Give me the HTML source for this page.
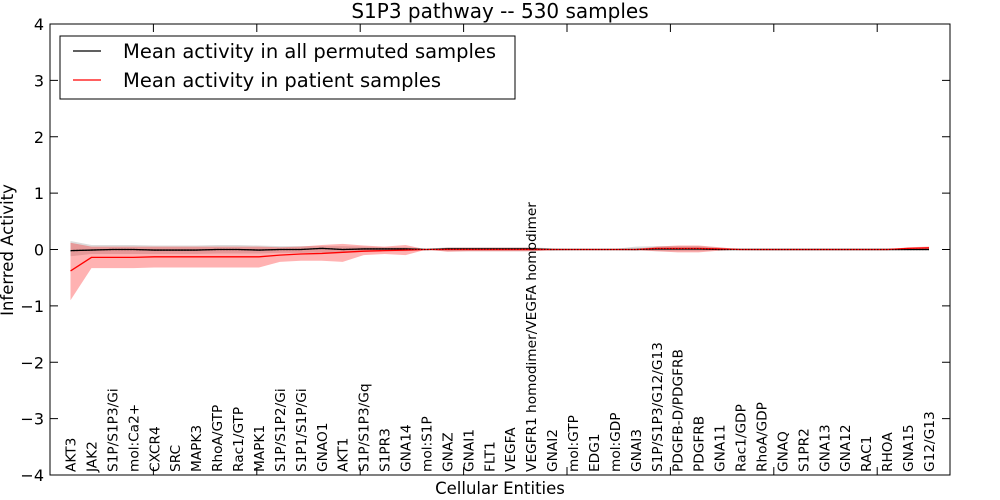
<!DOCTYPE html>
<html><head><meta charset="utf-8"><style>
body{margin:0;background:#fff;}
svg{display:block;font-family:"DejaVu Sans","Liberation Sans",sans-serif;}
</style></head><body>
<svg id="chart" width="1000" height="500">
<rect x="0" y="0" width="1000" height="500" fill="#fff"/>
<text x="500" y="18" text-anchor="middle" font-size="20">S1P3 pathway -- 530 samples</text>
<g id="plot"></g>
<rect x="50" y="24" width="900" height="451" fill="none" stroke="#000" stroke-width="1"/>
<text x="500" y="494" text-anchor="middle" font-size="16.5">Cellular Entities</text>
<text transform="translate(13,250) rotate(-90)" text-anchor="middle" font-size="16.5">Inferred Activity</text>
<g>
<rect x="60" y="36" width="455" height="63" fill="#fff" stroke="#000" stroke-width="1"/>
<line x1="73" y1="51" x2="101" y2="51" stroke="#000" stroke-width="1.2"/>
<text x="123" y="58" font-size="19.5">Mean activity in all permuted samples</text>
<line x1="73" y1="80" x2="101" y2="80" stroke="#f00" stroke-width="1.2"/>
<text x="123" y="87" font-size="19.5">Mean activity in patient samples</text>
</g>
</svg>
<script>
const categories=["AKT3","JAK2","S1P/S1P3/Gi","mol:Ca2+","CXCR4","SRC","MAPK3","RhoA/GTP","Rac1/GTP","MAPK1","S1P/S1P2/Gi","S1P1/S1P/Gi","GNAO1","AKT1","S1P/S1P3/Gq","S1PR3","GNA14","mol:S1P","GNAZ","GNAI1","FLT1","VEGFA","VEGFR1 homodimer/VEGFA homodimer","GNAI2","mol:GTP","EDG1","mol:GDP","GNAI3","S1P/S1P3/G12/G13","PDGFB-D/PDGFRB","PDGFRB","GNA11","Rac1/GDP","RhoA/GDP","GNAQ","S1PR2","GNA13","GNA12","RAC1","RHOA","GNA15","G12/G13"];
const patientMean=[-0.38,-0.14,-0.14,-0.14,-0.13,-0.13,-0.13,-0.13,-0.13,-0.13,-0.1,-0.08,-0.07,-0.05,-0.03,-0.02,-0.01,0,0,0,0,0,0,0,0,0,0,0,0.02,0.02,0.02,0.01,0,0,0,0,0,0,0,0,0.02,0.03];
const patientLow=[-0.9,-0.33,-0.33,-0.33,-0.32,-0.32,-0.32,-0.32,-0.32,-0.32,-0.22,-0.2,-0.2,-0.22,-0.1,-0.08,-0.1,0,-0.04,-0.03,-0.03,-0.03,-0.03,-0.01,0,0,0,-0.01,-0.03,-0.05,-0.05,-0.02,0,0,0,0,0,0,0,0,0,0];
const patientHigh=[0.12,0.05,0.05,0.05,0.05,0.05,0.05,0.05,0.05,0.05,0.04,0.05,0.08,0.1,0.07,0.05,0.08,0,0.03,0.03,0.03,0.03,0.03,0.01,0,0,0,0.01,0.05,0.07,0.07,0.04,0,0,0,0,0,0,0,0,0.04,0.05];
const permMean=[-0.02,-0.01,0,0,-0.01,-0.01,-0.01,0,0,-0.01,0,0,0.02,0,0.01,0.01,0.01,0,0.01,0.01,0.01,0.01,0.01,0,0,0,0,0,0.01,0.01,0.01,0,0,0,0,0,0,0,0,0,0,0];
const permLow=[-0.12,-0.08,-0.08,-0.08,-0.08,-0.08,-0.08,-0.07,-0.07,-0.07,-0.06,-0.06,-0.05,-0.06,-0.04,-0.03,-0.03,-0.01,-0.03,-0.03,-0.03,-0.03,-0.03,-0.02,-0.01,-0.01,-0.01,-0.02,-0.03,-0.03,-0.03,-0.02,-0.01,-0.02,-0.02,-0.02,-0.02,-0.02,-0.02,-0.02,-0.02,-0.02];
const permHigh=[0.15,0.08,0.08,0.08,0.07,0.07,0.07,0.08,0.08,0.07,0.06,0.06,0.06,0.06,0.05,0.04,0.04,0.01,0.04,0.04,0.04,0.04,0.04,0.02,0.01,0.01,0.01,0.05,0.06,0.06,0.06,0.03,0.02,0.02,0.02,0.02,0.02,0.02,0.02,0.02,0.02,0.02];
const yTicks=[-4,-3,-2,-1,0,1,2,3,4];
const yTickLabels=["\u22124","\u22123","\u22122","\u22121","0","1","2","3","4"];

const n=categories.length;
const step=(929-70.5)/(n-1);
const xs=i=>70.5+i*step;
const ys=v=>249.5-v*56.375;
const NS="http://www.w3.org/2000/svg";
const g=document.getElementById('plot');
function mk(t,a){const e=document.createElementNS(NS,t);for(const k in a)e.setAttribute(k,a[k]);g.appendChild(e);return e;}
function band(lo,hi,fill,op,name){
  let d="M"+lo.map((v,i)=>xs(i)+","+ys(v)).join("L");
  for(let i=n-1;i>=0;i--)d+="L"+xs(i)+","+ys(hi[i]);
  const p=mk('path',{d:d+"Z",fill:fill,'fill-opacity':op,stroke:'none'});
  
  
}
function line(vals,color,name,dash){
  const p=mk('path',{d:"M"+vals.map((v,i)=>xs(i)+","+ys(v)).join("L"),fill:'none',stroke:color,'stroke-width':1.3});
  if(dash)p.setAttribute('stroke-dasharray',dash);
  
  
}
band(permLow,permHigh,'#888',0.3,'permuted-band');
band(patientLow,patientHigh,'#f00',0.3,'patient-band');
line(permMean,'#000','permuted-mean-line');
line(patientMean,'#f00','patient-mean-line');
line(permMean,'#000','permuted-mean-dots','1,2');
yTicks.forEach((v,i)=>{
  const y=ys(v);
  const t1=mk('line',{x1:50,x2:58,y1:y,y2:y,stroke:'#000'});
  
  
  const t2=mk('line',{x1:942,x2:950,y1:y,y2:y,stroke:'#000'});
  
  
  const tx=mk('text',{x:44,y:y+6,'text-anchor':'end','font-size':16});
  tx.textContent=yTickLabels[i];
  
  
});
for(let k=1;k<9;k++){
  const x=50+k*103.4;
  if(x>=950)break;
  const a=mk('line',{x1:x,x2:x,y1:24,y2:32,stroke:'#000'});
  
  
  const b=mk('line',{x1:x,x2:x,y1:467,y2:475,stroke:'#000'});
  
  
}
categories.forEach((c,i)=>{
  const x=xs(i)+5;
  const t=mk('text',{transform:`translate(${x},472) rotate(-90)`,'font-size':13.7});
  t.textContent=c;
  
  
});
</script>
</body></html>
